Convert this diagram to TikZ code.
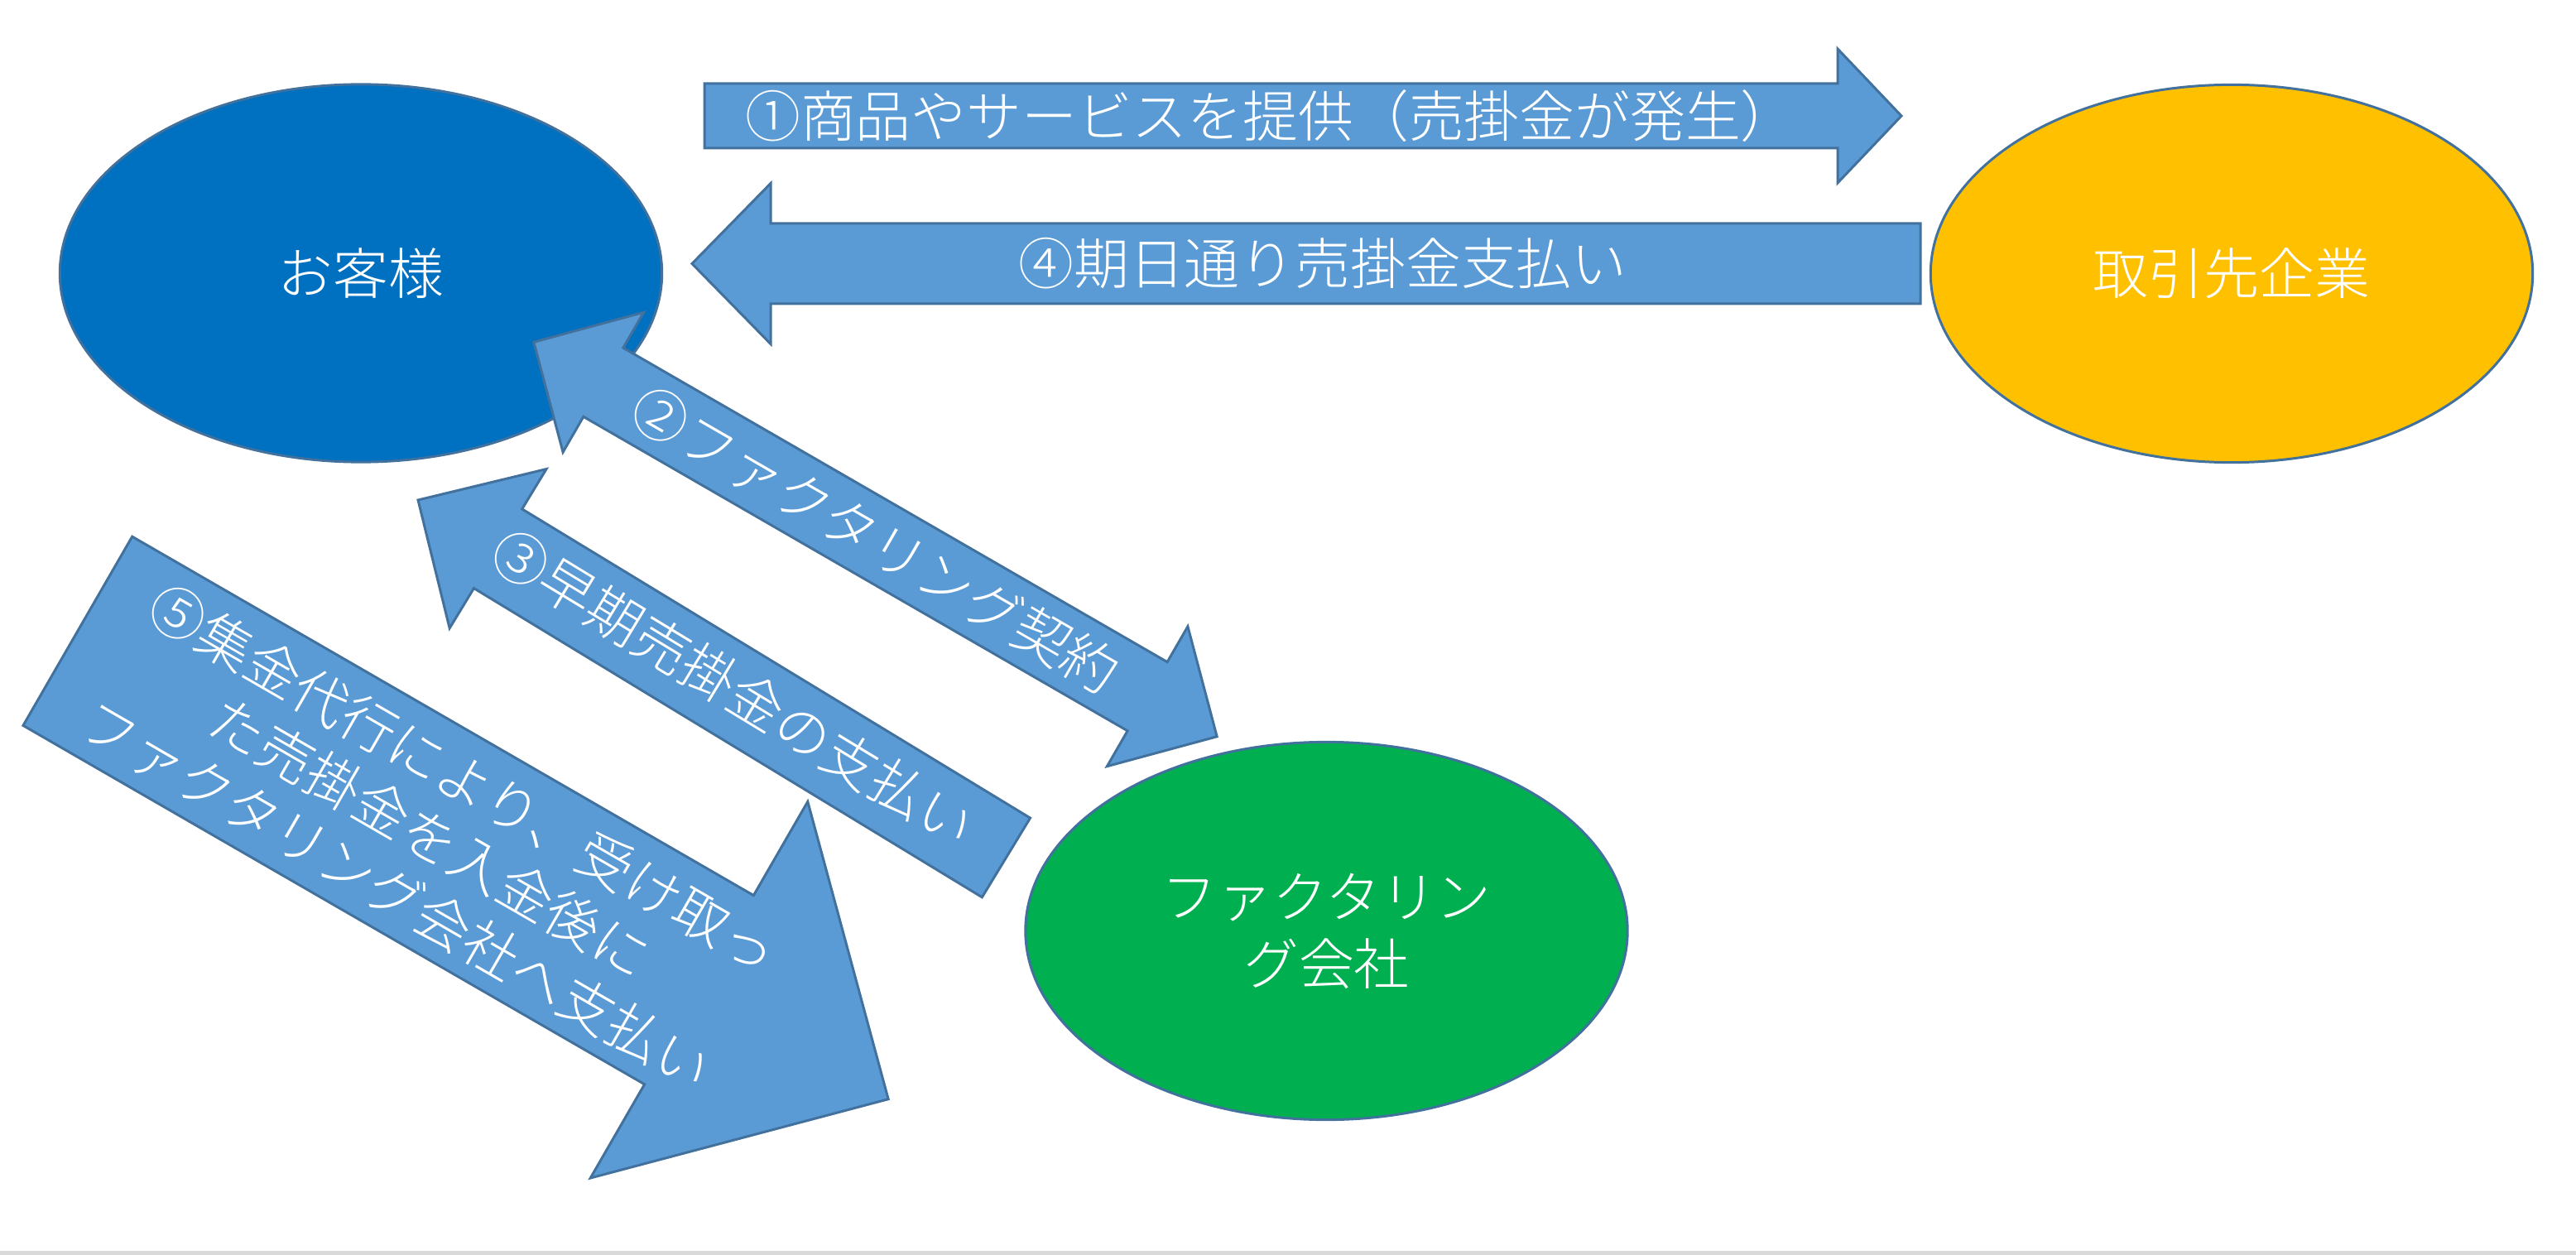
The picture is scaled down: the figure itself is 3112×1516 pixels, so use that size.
\documentclass[tikz,border=0pt]{standalone}
\usepackage{fontspec}
\newfontfamily\jp{Noto Sans CJK JP Light}
\usetikzlibrary{shapes.geometric}
\definecolor{custblue}{HTML}{0070C0}
\definecolor{vendyellow}{HTML}{FFC000}
\definecolor{factgreen}{HTML}{00B050}
\definecolor{arrowfill}{HTML}{5B9BD5}
\definecolor{edgeblue}{HTML}{41719C}
\definecolor{rulegray}{HTML}{D9D9D9}
\tikzset{
  party/.style={ellipse, draw=edgeblue, line width=0.85pt, inner sep=0pt,
    minimum width=7.27cm, minimum height=4.56cm, text=white, align=center,
    font={\jp\fontsize{19pt}{23pt}\selectfont}},
  blockarrow/.style={fill=arrowfill, draw=edgeblue, line width=0.85pt, line join=miter},
  lbl/.style={text=white, inner sep=0pt, align=center,
    font={\jp\fontsize{19pt}{23pt}\selectfont}}
}
\begin{document}
\begin{tikzpicture}[x={(0.01cm,0)}, y={(0,-0.01cm)}]
\fill[white] (0,0) rectangle (3112,1516);
\useasboundingbox (0,0) rectangle (3112,1516);
\draw[rulegray, line width=2pt] (0,1515) -- (3112,1515);

% parties
\node[party, fill=custblue] (cust) at (436,330) {お客様};
\node[party, fill=vendyellow] (vendor) at (2696,330.5) {取引先企業};
\node[party, fill=factgreen] (fact) at (1602.5,1124.5) {ファクタリン\\グ会社};

% arrow 1: right
\draw[blockarrow] (851,101) -- (2220,101) -- (2220,59) -- (2297,140)
  -- (2220,221) -- (2220,179) -- (851,179) -- cycle;
\node[lbl] (t1) at (1535,140) {①商品やサービスを提供（売掛金が発生）};

% arrow 4: left
\draw[blockarrow] (2320,270) -- (931,270) -- (931,221.5) -- (836,318.5)
  -- (931,415.5) -- (931,367) -- (2320,367) -- cycle;
\node[lbl] (t4) at (1598,318.5) {④期日通り売掛金支払い};

% arrow 2: double
\begin{scope}[shift={(1057.5,651.5)}, rotate=-30]
\draw[blockarrow] (-476.5,0) -- (-379.5,97.5) -- (-379.5,48) -- (379.5,48)
  -- (379.5,97.5) -- (476.5,0) -- (379.5,-97.5) -- (379.5,-48)
  -- (-379.5,-48) -- (-379.5,-97.5) -- cycle;
\end{scope}
\node[lbl, rotate=-30] (t2) at (1057.5,652) {②ファクタリング契約};

% arrow 3: pointing up-left
\begin{scope}[shift={(860.25,820)}, rotate=-31.3]
\draw[blockarrow] (-415.75,0) -- (-302.75,112.5) -- (-302.75,56) -- (415.75,56)
  -- (415.75,-56) -- (-302.75,-56) -- (-302.75,-112.5) -- cycle;
\end{scope}
\node[lbl, rotate=-31.3] (t3) at (886,831) {③早期売掛金の支払い};

% arrow 5: big, pointing down-right
\begin{scope}[shift={(583.5,1045)}, rotate=-30]
\draw[blockarrow] (-565.4,131.75) -- (301.4,131.75) -- (301.4,262.5) -- (565.4,0)
  -- (301.4,-262.5) -- (301.4,-131.75) -- (-565.4,-131.75) -- cycle;
\end{scope}
\node[lbl, rotate=-30] (t5) at (520,1011) {⑤集金代行により、受け取っ\\た売掛金を入金後に\\ファクタリング会社へ支払い};
\end{tikzpicture}
\end{document}
